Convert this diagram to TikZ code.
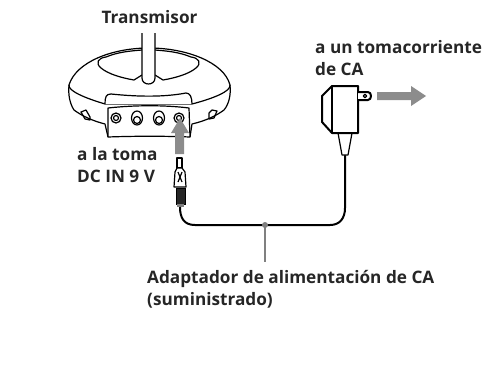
\documentclass[tikz,border=0pt]{standalone}
\usepackage{fontspec}
\setmainfont{Open Sans}
\usetikzlibrary{positioning}

\tikzset{
  label text/.style={font=\fontsize{17.2}{22}\selectfont\bfseries, align=left, text=black!85, inner sep=0pt},
  outline/.style={line width=1.2pt, line join=round},
  heavy/.style={line width=2pt, line join=round},
  gray arrow/.style={fill=black!45, draw=none}
}

\begin{document}
\begin{tikzpicture}[x=1pt, y=-1pt]

\useasboundingbox (0,0) rectangle (489,372);

\node [label text, anchor=center] (transmisor) at (149.5,17) {Transmisor};
\node [label text, anchor=north west] (toma) at (77,147) {a la toma\\DC IN 9 V};
\node [label text, anchor=north west] (tomacorriente) at (315,40) {a un tomacorriente\\de CA};
\node [label text, anchor=north west] (adaptador) at (147,270) {Adaptador de alimentación de CA\\(suministrado)};

\draw [outline] (69,85) .. controls (68,95) and (70,104) .. (74,110) .. controls (82,116) and (93,121) .. (105,124) -- (108,137);
\draw [outline] (230,85) .. controls (231,95) and (229,104) .. (224,110) .. controls (216,116) and (205,121) .. (192,124) -- (190,137);

\draw [outline] (69,85) .. controls (76,62) and (112,48) .. (149,48) .. controls (186,48) and (224,62) .. (230,85)
    .. controls (231,91) and (215,98) .. (192,104) -- (105,104)
    .. controls (85,98) and (68,91) .. (69,85) -- cycle;

\draw [outline] (142,75) -- (134,80) .. controls (122,78) and (108,74) .. (101,68) .. controls (95,63) and (98,58) .. (106,57)
    .. controls (118,52) and (130,51) .. (142,50);
\draw [outline] (155,75) -- (163,80) .. controls (175,78) and (189,74) .. (196,68) .. controls (202,63) and (199,58) .. (191,57)
    .. controls (179,52) and (167,51) .. (155,50);
\draw [outline, fill=white] (142,33) -- (142,78) .. controls (142,86) and (155,86) .. (155,78) -- (155,33);

\draw [outline, fill=white] (105,104) .. controls (105,97) and (106,94) .. (111,94) .. controls (140,97) and (165,97) .. (186,93) .. controls (190,93) and (192,97) .. (192,104);
\draw [outline, fill=white] (108,108) .. controls (135,105) and (165,105) .. (189,108) -- (190,137) .. controls (165,136) and (135,136) .. (108,137) -- cycle;

\foreach \jackx in {116,179} {
  \draw [outline] (\jackx,118) circle (5);
  \draw [outline] (\jackx,118) circle (2.5);
}
\foreach \jackx in {137,159} {
  \draw [outline] (\jackx,118) ellipse (5.5 and 7);
  \draw [outline] (\jackx,120) circle (3.5);
}

\draw [outline] (81,112) -- (86,110) -- (90,117) -- (90,120) -- (85,119) -- cycle;
\draw [outline] (209,113) -- (209,119) -- (214,118) -- (217,111) -- (212,110) -- cycle;

\draw [gray arrow] (180,118) -- (189,133) -- (184,133) -- (184,154) -- (175,154) -- (175,133) -- (171,133) -- cycle;

\draw [outline, fill=white] (177,158) rectangle (182,168);
\draw [outline, fill=white] (177,168) -- (182,168) -- (185,172) -- (186,187) -- (174,187) -- (175,172) -- cycle;
\draw [outline] (178,172) -- (182,182);
\draw [outline] (182,172) -- (178,182);
\draw [fill=black!85] (176,188) rectangle (185,204);
\draw [fill=black!50, draw=none] (177,204) rectangle (184,207);

\draw [heavy] (180,207) .. controls (180,218) and (184,225) .. (195,225) -- (330,225) .. controls (340,225) and (345,218) .. (345,208) -- (345,155);

\draw [outline, fill=white] (338,133) -- (342,155) -- (348,155) -- (352,133) -- cycle;
\draw [heavy, fill=white] (332,86) -- (358,86) -- (358,133) -- (332,133) -- (322,122) -- (322,96) -- cycle;
\draw [outline] (332,86) -- (332,133);
\draw [heavy, fill=white] (358,92) -- (368,92) .. controls (372,92) and (372,100) .. (368,100) -- (358,100);
\draw [outline] (365,96) circle (1.8);

\draw [gray arrow] (377,92) -- (411,92) -- (411,86) -- (426,96) -- (411,106) -- (411,100) -- (377,100) -- cycle;

\coordinate (cordpoint) at (265,225);
\fill [black!50] (cordpoint) circle (3);
\draw [black!50, line width=2pt] (cordpoint) -- (265,262);

\end{tikzpicture}
\end{document}
